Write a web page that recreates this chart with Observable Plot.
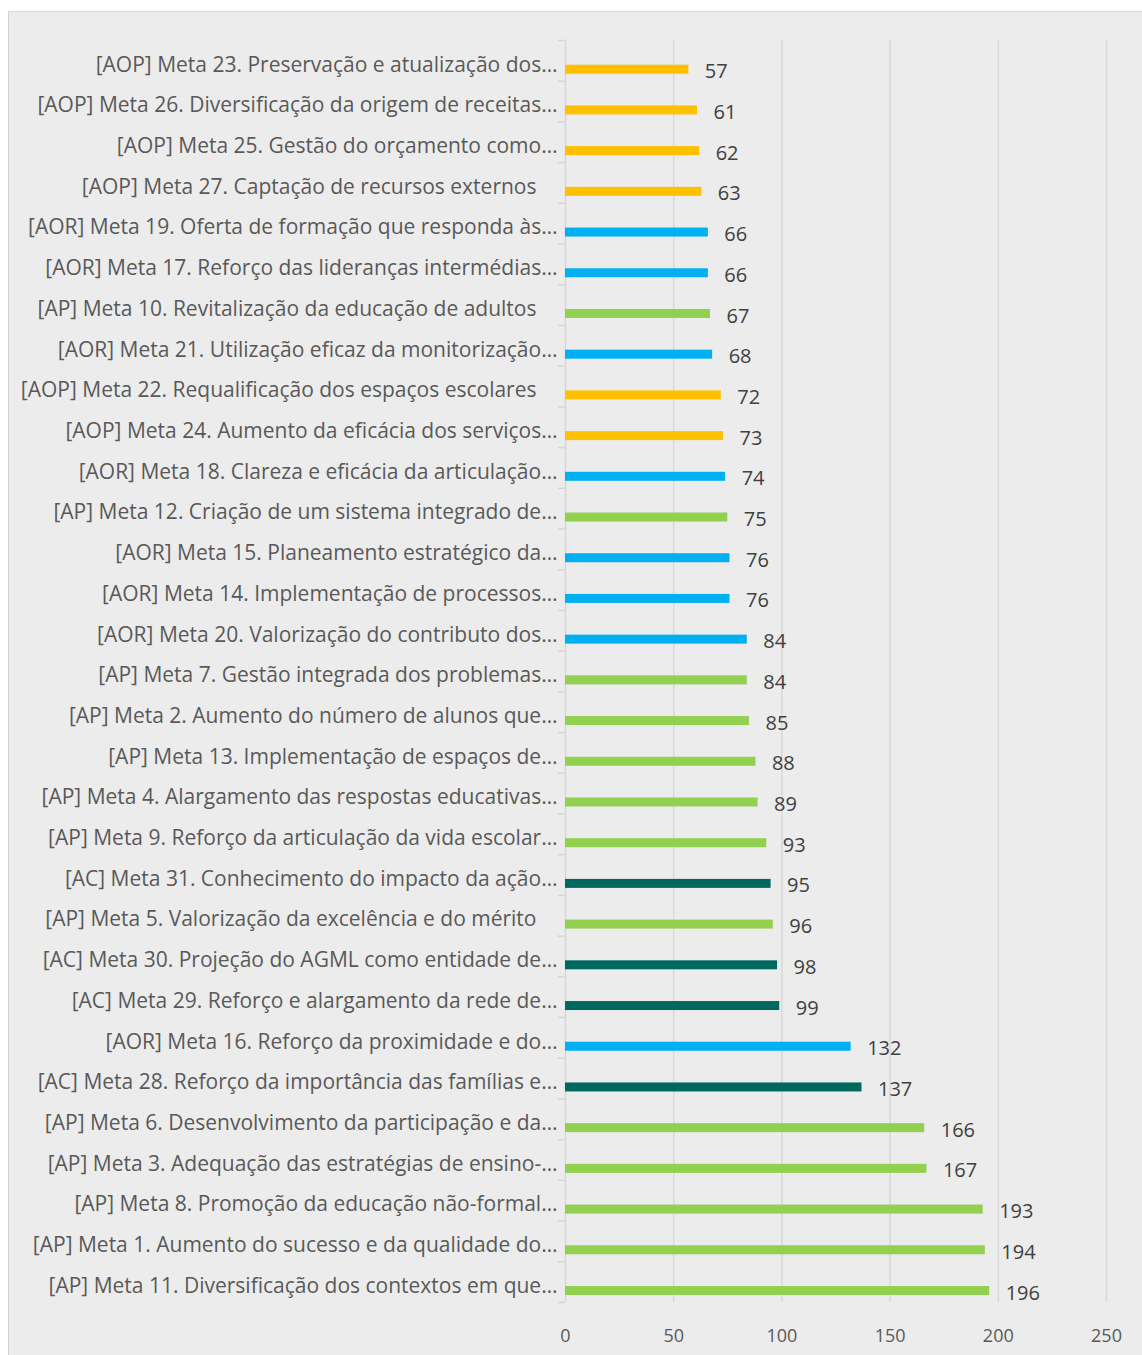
<!DOCTYPE html>
<html>
<head>
<meta charset="utf-8">
<script src="https://cdn.jsdelivr.net/npm/d3@7"></script>
<script src="https://cdn.jsdelivr.net/npm/@observablehq/plot@0.6"></script>
<style>
  html, body { margin: 0; padding: 0; background: #ffffff; }
  #frame {
    position: absolute; left: 8px; top: 11px;
    width: 1134px; height: 1344px; box-sizing: border-box;
    background: #ececec;
    border-left: 1px solid #d0d0d0; border-top: 1px solid #dadada;
  }
  #frame svg { display: block; }
</style>
</head>
<body>
<div id="frame"></div>
<script>
// Categories (top to bottom as shown)
const labels = [
  "[AOP] Meta 23. Preservação e atualização dos…",
  "[AOP] Meta 26. Diversificação da origem de receitas…",
  "[AOP] Meta 25. Gestão do orçamento como…",
  "[AOP] Meta 27. Captação de recursos externos\u2003",
  "[AOR] Meta 19. Oferta de formação que responda às…",
  "[AOR] Meta 17. Reforço das lideranças intermédias…",
  "[AP] Meta 10. Revitalização da educação de adultos\u2003",
  "[AOR] Meta 21. Utilização eficaz da monitorização…",
  "[AOP] Meta 22. Requalificação dos espaços escolares\u2003",
  "[AOP] Meta 24. Aumento da eficácia dos serviços…",
  "[AOR] Meta 18. Clareza e eficácia da articulação…",
  "[AP] Meta 12. Criação de um sistema integrado de…",
  "[AOR] Meta 15. Planeamento estratégico da…",
  "[AOR] Meta 14. Implementação de processos…",
  "[AOR] Meta 20. Valorização do contributo dos…",
  "[AP] Meta 7. Gestão integrada dos problemas…",
  "[AP] Meta 2. Aumento do número de alunos que…",
  "[AP] Meta 13. Implementação de espaços de…",
  "[AP] Meta 4. Alargamento das respostas educativas…",
  "[AP] Meta 9. Reforço da articulação da vida escolar…",
  "[AC] Meta 31. Conhecimento do impacto da ação…",
  "[AP] Meta 5. Valorização da excelência e do mérito\u2003",
  "[AC] Meta 30. Projeção do AGML como entidade de…",
  "[AC] Meta 29. Reforço e alargamento da rede de…",
  "[AOR] Meta 16. Reforço da proximidade e do…",
  "[AC] Meta 28. Reforço da importância das famílias e…",
  "[AP] Meta 6. Desenvolvimento da participação e da…",
  "[AP] Meta 3. Adequação das estratégias de ensino-…",
  "[AP] Meta 8. Promoção da educação não-formal…",
  "[AP] Meta 1. Aumento do sucesso e da qualidade do…",
  "[AP] Meta 11. Diversificação dos contextos em que…"
];
// Values
const values = [57, 61, 62, 63, 66, 66, 67, 68, 72, 73, 74, 75, 76, 76, 84, 84, 85, 88, 89, 93, 95, 96, 98, 99, 132, 137, 166, 167, 193, 194, 196];
// Areas (group of each goal)
const areaNames = ["AOP", "AOR", "AP", "AC"];
const areaColors = ["#ffc000", "#00b0f0", "#92d050", "#00695f"];
// X tick labels
const xTicks = [0, 50, 100, 150, 200, 250];

const data = labels.map((label, i) => ({
  label,
  value: values[i],
  area: label.match(/^\[(\w+)\]/)[1]
}));

const W = 1133, H = 1343;
const mT = 28, mB = 53;
const bw = (H - mT - mB) / labels.length;

const chart = Plot.plot({
  width: W,
  height: H,
  marginLeft: 556,
  marginRight: 36,
  marginTop: mT,
  marginBottom: mB,
  style: { background: "transparent", fontFamily: "'Open Sans', sans-serif", overflow: "visible" },
  x: { domain: [0, 250] },
  y: { domain: labels, padding: 0, round: false },
  color: { domain: areaNames, range: areaColors },
  marks: [
    Plot.ruleX(xTicks.slice(1), { stroke: "#d9d9d9", strokeWidth: 1.5 }),
    Plot.ruleX([0], { stroke: "#d6d6d6", strokeWidth: 1.5 }),
    Plot.ruleY(labels, { y: d => d, x1: -3.3, x2: 0, dy: -bw / 2, stroke: "#d6d6d6", strokeWidth: 1.5 }),
    Plot.ruleY(labels.slice(-1), { y: d => d, x1: -3.3, x2: 0, dy: bw / 2, stroke: "#d6d6d6", strokeWidth: 1.5 }),
    Plot.barX(data, {
      x: "value", y: "label", fill: "area",
      insetTop: bw - 9 - 7, insetBottom: 7
    }),
    Plot.text(data, {
      x: "value", y: "label", text: d => String(d.value),
      dx: 16, dy: 11, textAnchor: "start", fontSize: 20, fill: "#404040"
    }),
    Plot.axisY({ tickSize: 0, tickPadding: 8, dy: 4, fontSize: 21, fill: "#595959", label: null }),
    Plot.axisX({ ticks: xTicks, tickSize: 0, tickPadding: 27, fontSize: 18, fill: "#595959", label: null })
  ]
});

document.getElementById("frame").appendChild(chart);
</script>
</body>
</html>
